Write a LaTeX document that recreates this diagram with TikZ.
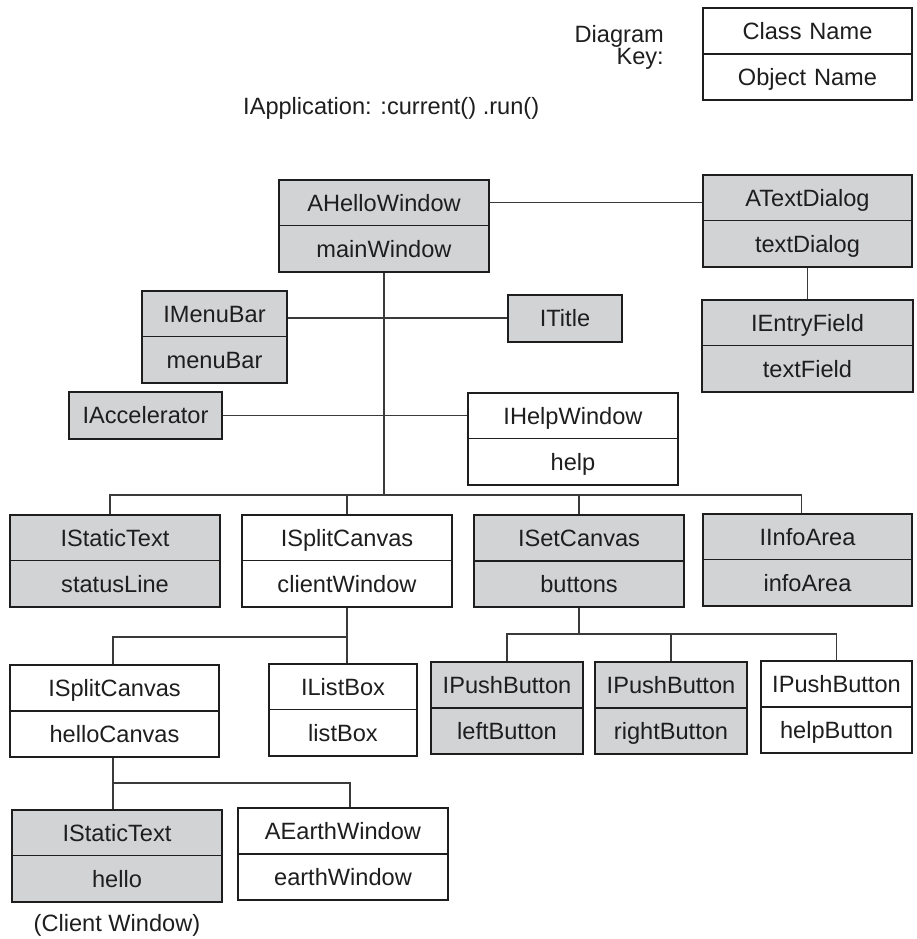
\documentclass[tikz,border=0pt]{standalone}
\usepackage{fontspec}
\setmainfont{Liberation Sans}
\usetikzlibrary{shapes.multipart}
\definecolor{ink}{HTML}{1E1E1E}
\definecolor{shade}{HTML}{D2D3D5}
\definecolor{wirecol}{HTML}{3A3A3A}
% fixed-height label so every compartment has the same size
\newcommand\lbl[1]{\raisebox{0pt}[17pt][0pt]{#1}}

\begin{document}
\begin{tikzpicture}[x=1pt,y=-1pt,
  every node/.style={font=\fontsize{23.6}{26}\selectfont, text=ink},
  objbox/.style={rectangle split, rectangle split parts=2,
    rectangle split draw splits=false, draw=ink, line width=2pt,
    inner xsep=0pt, inner ysep=13.5pt, text width=#1, align=center},
  greybox/.style={objbox=#1, fill=shade},
  whitebox/.style={objbox=#1, fill=white},
  tagbox/.style={draw=ink, line width=2pt, fill=shade, inner sep=0pt,
    minimum height=47pt, minimum width=#1},
  splitline/.style={draw=ink, line width=1.2pt},
  wire/.style={draw=wirecol, line width=1.2pt},
  caption/.style={inner sep=0pt},
]
\useasboundingbox (0,0) rectangle (917,939);

% legend
\node[caption, align=right, anchor=east, font=\fontsize{23.6}{22}\selectfont] (keylabel) at (664,47) {Diagram\\Key:};
\node[whitebox=209pt] (key) at (807.5,54) {\lbl{Class Name}\nodepart{two}\lbl{Object Name}};

\node[caption, anchor=base west] (app) at (243,115) {IApplication: :current() .run()};

% main window and its direct parts
\node[greybox=210pt] (mainWindow) at (384,225.5) {\lbl{AHelloWindow}\nodepart{two}\lbl{mainWindow}};
\node[greybox=209pt] (textDialog) at (807.5,220.5) {\lbl{ATextDialog}\nodepart{two}\lbl{textDialog}};
\node[greybox=211pt] (textField) at (807.5,345.5) {\lbl{IEntryField}\nodepart{two}\lbl{textField}};
\node[greybox=145pt] (menuBar) at (214.5,336.5) {\lbl{IMenuBar}\nodepart{two}\lbl{menuBar}};
\node[tagbox=114pt] (title) at (565,318) {ITitle};
\node[tagbox=153pt] (accel) at (145.5,415.5) {IAccelerator};
\node[whitebox=210pt] (help) at (573,438.5) {\lbl{IHelpWindow}\nodepart{two}\lbl{help}};

% client area row
\node[greybox=210pt] (statusLine) at (115,560.5) {\lbl{IStaticText}\nodepart{two}\lbl{statusLine}};
\node[whitebox=210pt] (clientWindow) at (347,560.5) {\lbl{ISplitCanvas}\nodepart{two}\lbl{clientWindow}};
\node[greybox=210pt] (buttons) at (579,561) {\lbl{ISetCanvas}\nodepart{two}\lbl{buttons}};
\node[greybox=209pt] (infoArea) at (807.5,559.5) {\lbl{IInfoArea}\nodepart{two}\lbl{infoArea}};

% split canvas children and push buttons
\node[whitebox=209pt] (helloCanvas) at (114.5,711) {\lbl{ISplitCanvas}\nodepart{two}\lbl{helloCanvas}};
\node[whitebox=148pt] (listBox) at (343,709.5) {\lbl{IListBox}\nodepart{two}\lbl{listBox}};
\node[greybox=152pt] (leftButton) at (507,708) {\lbl{IPushButton}\nodepart{two}\lbl{leftButton}};
\node[greybox=152pt] (rightButton) at (671,708) {\lbl{IPushButton}\nodepart{two}\lbl{rightButton}};
\node[whitebox=151pt] (helpButton) at (836.5,707) {\lbl{IPushButton}\nodepart{two}\lbl{helpButton}};

% bottom row
\node[greybox=210pt] (hello) at (117,855.5) {\lbl{IStaticText}\nodepart{two}\lbl{hello}};
\node[whitebox=210pt] (earthWindow) at (343,854) {\lbl{AEarthWindow}\nodepart{two}\lbl{earthWindow}};
\node[caption, anchor=base] (clientcap) at (117,931) {(Client Window)};

% compartment dividers
\foreach \n in {key,mainWindow,textDialog,textField,menuBar,help,statusLine,
  clientWindow,buttons,infoArea,helloCanvas,listBox,leftButton,rightButton,
  helpButton,hello,earthWindow}
  \draw[splitline] (\n.text split west) -- (\n.text split east);

% connectors
\coordinate (busA) at (0,495);
\coordinate (busB) at (0,637);
\coordinate (busC) at (0,634);
\coordinate (busD) at (0,783);

\draw[wire] (mainWindow.text east) -- (textDialog.west |- mainWindow.text east);
\draw[wire] (textDialog.south) -- (textField.north);
\draw[wire] (menuBar.east |- title.west) -- (title.west);
\draw[wire] (accel.east) -- (help.west |- accel.east);
\draw[wire] (mainWindow.south) -- (mainWindow.south |- busA);

\draw[wire] ([xshift=-5pt]statusLine.north) -- ([xshift=-5pt]statusLine.north |- busA)
  -- ([xshift=-6pt]infoArea.north |- busA) -- ([xshift=-6pt]infoArea.north);
\draw[wire] (clientWindow.north) -- (clientWindow.north |- busA);
\draw[wire] (buttons.north) -- (buttons.north |- busA);

\draw[wire] (clientWindow.south) -- (clientWindow.south |- listBox.north);
\draw[wire] (clientWindow.south |- busB) -- ([xshift=-1.5pt]helloCanvas.north |- busB)
  -- ([xshift=-1.5pt]helloCanvas.north);

\draw[wire] (buttons.south) -- (buttons.south |- busC);
\draw[wire] (leftButton.north) -- (leftButton.north |- busC)
  -- (helpButton.north |- busC) -- (helpButton.north);
\draw[wire, line width=1.8pt] (rightButton.north) -- (rightButton.north |- busC);

\draw[wire] ([xshift=-1.5pt]helloCanvas.south) -- ([xshift=-1.5pt]helloCanvas.south |- hello.north);
\draw[wire] ([xshift=-1.5pt]helloCanvas.south |- busD) -- ([xshift=7pt]earthWindow.north |- busD)
  -- ([xshift=7pt]earthWindow.north);
\end{tikzpicture}
\end{document}
